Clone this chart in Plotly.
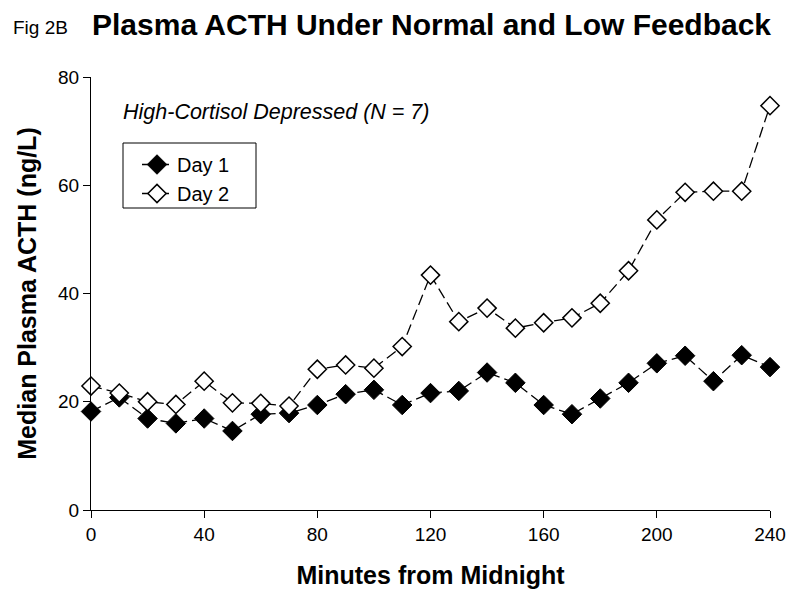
import plotly.graph_objects as go

minutes = [0, 10, 20, 30, 40, 50, 60, 70, 80, 90, 100, 110, 120, 130, 140, 150,
           160, 170, 180, 190, 200, 210, 220, 230, 240]
day1 = [18.2, 20.8, 16.9, 16.0, 16.9, 14.6, 17.7, 17.9, 19.4, 21.4, 22.2, 19.4, 21.6,
        22.0, 25.4, 23.5, 19.4, 17.7, 20.6, 23.5, 27.1, 28.5, 23.8, 28.6, 26.4]
day2 = [22.9, 21.6, 20.0, 19.5, 23.8, 19.8, 19.7, 19.2, 26.0, 26.8, 26.2, 30.2, 43.4,
        34.8, 37.3, 33.6, 34.6, 35.5, 38.2, 44.2, 53.6, 58.7, 58.9, 58.9, 74.7]
x_ticks = [0, 40, 80, 120, 160, 200, 240]
y_ticks = [0, 20, 40, 60, 80]

FONT = "Arial, Liberation Sans, sans-serif"
OFF = 8  # page body margin

fig = go.Figure()
fig.add_trace(go.Scatter(
    x=minutes, y=day1, name="Day 1", mode="lines+markers",
    line=dict(color="black", width=1.3, dash="11px,5px"),
    marker=dict(symbol="diamond", size=15, color="black", line=dict(color="black", width=1)),
    cliponaxis=False))
fig.add_trace(go.Scatter(
    x=minutes, y=day2, name="Day 2", mode="lines+markers",
    line=dict(color="black", width=1.3, dash="11px,5px"),
    marker=dict(symbol="diamond", size=14, color="white", line=dict(color="black", width=1.5)),
    cliponaxis=False))

# plot area in screen pixels (reference): x 91..770, y 77..510
X0, X1, Y0, Y1 = 91, 770, 77, 510
W, H = 800, 601
L, T = X0 - OFF, Y0 - OFF
R, B = W - (X1 - OFF), H - (Y1 - OFF)
PW, PH = X1 - X0, Y1 - Y0


def px(x):
    return (x - X0) / PW


def py(y):
    return (Y1 - y) / PH


fig.update_layout(
    width=W, height=H,
    margin=dict(l=L, r=R, t=T, b=B, autoexpand=False),
    paper_bgcolor="white", plot_bgcolor="white",
    font=dict(family=FONT, color="black", size=19),
    showlegend=True,
    legend=dict(x=px(137), y=py(145), xanchor="left", yanchor="top",
                borderwidth=0, bgcolor="rgba(0,0,0,0)",
                font=dict(size=20), itemwidth=30, tracegroupgap=0),
    xaxis=dict(range=[0, 240], tickvals=x_ticks, ticks="outside", ticklen=7,
               tickcolor="black", showline=True, linecolor="black", linewidth=1,
               showgrid=False, zeroline=False, tickfont=dict(size=19), automargin=False,
               title=dict(text="<b>Minutes from Midnight</b>", font=dict(size=25), standoff=22)),
    yaxis=dict(range=[0, 80], tickvals=y_ticks, ticks="outside", ticklen=7,
               tickcolor="black", showline=True, linecolor="black", linewidth=1,
               showgrid=False, zeroline=False, tickfont=dict(size=19), automargin=False,
               title=dict(text="<b>Median Plasma ACTH (ng/L)</b>", font=dict(size=25), standoff=14)),
    shapes=[
        dict(type="rect", xref="paper", yref="paper",
             x0=px(123), x1=px(256), y0=py(143), y1=py(208),
             line=dict(color="black", width=1), fillcolor="rgba(0,0,0,0)", layer="above"),
    ],
    annotations=[
        dict(text="<b>Plasma ACTH Under Normal and Low Feedback</b>",
             x=px(431), y=py(24), xref="paper", yref="paper",
             xanchor="center", yanchor="middle", showarrow=False, font=dict(size=30)),
        dict(text="Fig 2B", xref="paper", yref="paper",
             x=px(11), y=py(27), xanchor="left", yanchor="middle",
             showarrow=False, font=dict(size=19)),
        dict(text="<i>High-Cortisol Depressed (N = 7)</i>", xref="paper", yref="paper",
             x=px(121), y=py(112), xanchor="left", yanchor="middle",
             showarrow=False, font=dict(size=21.5)),
    ],
)

fig.write_html("out.html")
